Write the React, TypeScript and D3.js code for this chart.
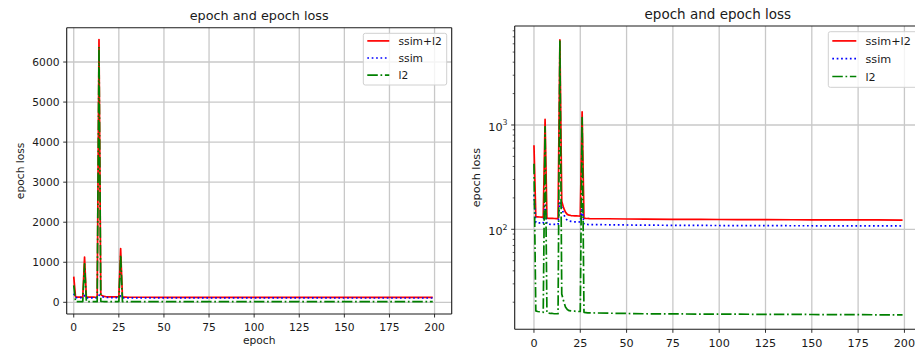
import React, { useEffect, useRef } from 'react';
import * as d3 from 'd3';

// epochs where the curves change; the line is straight between them
const epochs = [
  0, 1, 2, 3, 4, 5, 6, 7, 8, 9, 10, 11, 12, 13, 14, 15, 16, 17, 18, 19, 20,
  21, 22, 23, 24, 25, 26, 27, 28, 29, 30, 40, 50, 60, 75, 90, 100, 110, 125,
  140, 150, 160, 175, 185, 199,
];

const ssimL2Loss = [
  640, 132.5, 131.8, 131.2, 130.6, 130, 1130, 127.8, 127.5, 127.2, 127.1, 126.9,
  126.8, 126.7, 6560, 186, 160.5, 146, 139, 136.6, 135.5, 134.9, 134.4, 134.3,
  134.1, 133.8, 1340, 128, 127.4, 127, 126.8, 126.2, 125.6, 125.1, 124.6, 124.3,
  124.1, 123.8, 123.6, 123.5, 123.3, 123.2, 123.1, 122.9, 122.7,
];

const ssimLoss = [
  215, 116, 115.5, 115, 114.5, 114, 170, 112, 111.8, 111.6, 111.5, 111.4, 111.3,
  111.2, 180, 162, 140, 128, 122, 120, 119, 118.5, 118, 118, 117.8, 117.5, 160,
  112, 111.5, 111.2, 111, 110.5, 110, 109.6, 109.2, 108.9, 108.7, 108.5, 108.3,
  108.2, 108.1, 108, 107.9, 107.8, 107.6,
];

const l2Loss = [
  425, 16.5, 16.3, 16.2, 16.1, 16, 960, 15.8, 15.7, 15.6, 15.6, 15.5, 15.5, 15.5,
  6380, 24, 20.5, 18, 17, 16.6, 16.5, 16.4, 16.4, 16.3, 16.3, 16.3, 1180, 16,
  15.9, 15.8, 15.8, 15.7, 15.6, 15.5, 15.45, 15.4, 15.4, 15.35, 15.3, 15.3,
  15.25, 15.2, 15.2, 15.15, 15.1,
];

const seriesNames = ['ssim+l2', 'ssim', 'l2'];
const seriesValues = [ssimL2Loss, ssimLoss, l2Loss];
const seriesColors = ['#ff0000', '#0000ff', '#008000'];
const seriesDash = [null, '1.7 2.7', '10.5 2.7 1.7 2.7'];

const xTicks = [0, 25, 50, 75, 100, 125, 150, 175, 200];
const linearYTicks = [0, 1000, 2000, 3000, 4000, 5000, 6000];
const logYTickPowers = [2, 3];

const FONT = '"DejaVu Sans", sans-serif';
const INK = '#1a1a1a';

interface PanelSpec {
  left: number;
  right: number;
  top: number;
  bottom: number;
  xDomain: [number, number];
  log: boolean;
  yDomain: [number, number];
  font: number;
  titleFont: number;
  titleY: number;
  xTickY: number;
  xLabelY: number | null;
  yLabelX: number;
  legend: { x: number; y: number; w: number; h: number; row0: number; rowGap: number; lineLen: number };
  clipId: string;
}

const panels: PanelSpec[] = [
  {
    left: 66.7, right: 451.7, top: 27.7, bottom: 314,
    xDomain: [-3.9, 209.5], log: false, yDomain: [-292, 6857],
    font: 10.7, titleFont: 12.8, titleY: 19.8, xTickY: 331, xLabelY: 343.5, yLabelX: 20.5,
    legend: { x: 363.3, y: 33.3, w: 83.4, h: 51.7, row0: 7.6, rowGap: 17.1, lineLen: 22 },
    clipId: 'clipLinear',
  },
  {
    left: 514.7, right: 921, top: 26, bottom: 329.3,
    xDomain: [-10.4, 208.95], log: true, yDomain: [11.0, 8890],
    font: 11.2, titleFont: 13.5, titleY: 18.5, xTickY: 347.3, xLabelY: null, yLabelX: 475.8,
    legend: { x: 828.3, y: 31.7, w: 95, h: 55.6, row0: 9.2, rowGap: 17.8, lineLen: 24 },
    clipId: 'clipLog',
  },
];

function drawPanel(svg: d3.Selection<SVGSVGElement, unknown, null, undefined>, p: PanelSpec) {
  const x = d3.scaleLinear().domain(p.xDomain).range([p.left, p.right]);
  const y = p.log
    ? d3.scaleLog().domain(p.yDomain).range([p.bottom, p.top])
    : d3.scaleLinear().domain(p.yDomain).range([p.bottom, p.top]);

  const g = svg.append('g');

  g.append('defs').append('clipPath').attr('id', p.clipId)
    .append('rect')
    .attr('x', p.left).attr('y', p.top)
    .attr('width', p.right - p.left).attr('height', p.bottom - p.top);

  const yTicks = p.log ? logYTickPowers.map(k => Math.pow(10, k)) : linearYTicks;

  // grid
  const grid = g.append('g').attr('stroke', '#c8c8c8').attr('stroke-width', 1.3);
  xTicks.forEach(t => {
    grid.append('line').attr('x1', x(t)).attr('x2', x(t)).attr('y1', p.top).attr('y2', p.bottom);
  });
  yTicks.forEach(t => {
    grid.append('line').attr('x1', p.left).attr('x2', p.right).attr('y1', y(t)).attr('y2', y(t));
  });

  // curves
  const lines = g.append('g').attr('clip-path', `url(#${p.clipId})`);
  seriesValues.forEach((vals, i) => {
    const line = d3.line<number>()
      .x((_, j) => x(epochs[j]))
      .y(d => y(d));
    lines.append('path')
      .attr('d', line(vals) as string)
      .attr('fill', 'none')
      .attr('stroke', seriesColors[i])
      .attr('stroke-width', 1.7)
      .attr('stroke-linejoin', 'round')
      .attr('stroke-dasharray', seriesDash[i]);
  });

  // spines
  const sp = g.append('g').attr('stroke', INK).attr('stroke-width', 1.1);
  sp.append('line').attr('x1', p.left).attr('x2', p.left).attr('y1', p.top).attr('y2', p.bottom);
  sp.append('line').attr('x1', p.left).attr('x2', p.right).attr('y1', p.bottom).attr('y2', p.bottom);
  sp.append('line').attr('x1', p.left).attr('x2', p.right).attr('y1', p.top).attr('y2', p.top);
  sp.append('line').attr('x1', p.right).attr('x2', p.right).attr('y1', p.top).attr('y2', p.bottom);

  // x ticks
  xTicks.forEach(t => {
    g.append('line').attr('x1', x(t)).attr('x2', x(t)).attr('y1', p.bottom).attr('y2', p.bottom + 3.5)
      .attr('stroke', INK).attr('stroke-width', 0.9);
    g.append('text').attr('x', x(t)).attr('y', p.xTickY)
      .attr('text-anchor', 'middle').attr('font-size', p.font).attr('font-family', FONT).attr('fill', INK)
      .text(String(t));
  });

  // y ticks
  yTicks.forEach((t, i) => {
    g.append('line').attr('x1', p.left - 3.5).attr('x2', p.left).attr('y1', y(t)).attr('y2', y(t))
      .attr('stroke', INK).attr('stroke-width', 0.9);
    const label = g.append('text').attr('x', p.left - 7.2).attr('y', y(t))
      .attr('dy', '0.36em')
      .attr('text-anchor', 'end').attr('font-size', p.font).attr('font-family', FONT).attr('fill', INK);
    if (p.log) {
      label.attr('dy', '0.55em');
      label.append('tspan').text('10');
      label.append('tspan').attr('font-size', p.font * 0.7).attr('dy', '-0.75em').text(String(logYTickPowers[i]));
    } else {
      label.text(String(t));
    }
  });

  // log minor ticks
  if (p.log) {
    const [lo, hi] = p.yDomain;
    for (let k = 1; k <= 3; k++) {
      for (let m = 2; m <= 9; m++) {
        const v = m * Math.pow(10, k);
        if (v < lo || v > hi) continue;
        g.append('line').attr('x1', p.left - 2).attr('x2', p.left).attr('y1', y(v)).attr('y2', y(v))
          .attr('stroke', INK).attr('stroke-width', 0.7);
      }
    }
  }

  // title and labels
  const cx = (p.left + p.right) / 2;
  g.append('text').attr('x', cx).attr('y', p.titleY)
    .attr('text-anchor', 'middle').attr('font-size', p.titleFont).attr('font-family', FONT).attr('fill', INK)
    .text('epoch and epoch loss');
  if (p.xLabelY !== null) {
    g.append('text').attr('x', cx).attr('y', p.xLabelY)
      .attr('text-anchor', 'middle').attr('font-size', p.font).attr('font-family', FONT).attr('fill', INK)
      .text('epoch');
  }
  const cy = (p.top + p.bottom) / 2;
  g.append('text')
    .attr('transform', `translate(${p.yLabelX + p.font * 0.36},${cy}) rotate(-90)`)
    .attr('text-anchor', 'middle').attr('font-size', p.font).attr('font-family', FONT).attr('fill', INK)
    .text('epoch loss');

  // legend
  const L = p.legend;
  const lg = g.append('g');
  lg.append('rect').attr('x', L.x).attr('y', L.y).attr('width', L.w).attr('height', L.h)
    .attr('rx', 2).attr('fill', '#fff').attr('fill-opacity', 0.8)
    .attr('stroke', '#d0d0d0').attr('stroke-width', 1);
  seriesNames.forEach((name, i) => {
    const ry = L.y + L.row0 + i * L.rowGap;
    lg.append('line')
      .attr('x1', L.x + 4).attr('x2', L.x + 4 + L.lineLen).attr('y1', ry).attr('y2', ry)
      .attr('stroke', seriesColors[i]).attr('stroke-width', 1.7)
      .attr('stroke-dasharray', seriesDash[i]);
    lg.append('text').attr('x', L.x + 4 + L.lineLen + 9.2).attr('y', ry).attr('dy', '0.36em')
      .attr('font-size', p.font).attr('font-family', FONT).attr('fill', INK)
      .text(name);
  });
}

export default function App() {
  const ref = useRef<SVGSVGElement>(null);

  useEffect(() => {
    if (!ref.current) return;
    const svg = d3.select(ref.current);
    svg.selectAll('*').remove();
    panels.forEach(p => drawPanel(svg, p));
  }, []);

  return (
    <div style={{ position: 'absolute', left: 0, top: 0 }}>
      <svg ref={ref} width={915} height={351} style={{ display: 'block', background: '#fff' }} />
    </div>
  );
}
